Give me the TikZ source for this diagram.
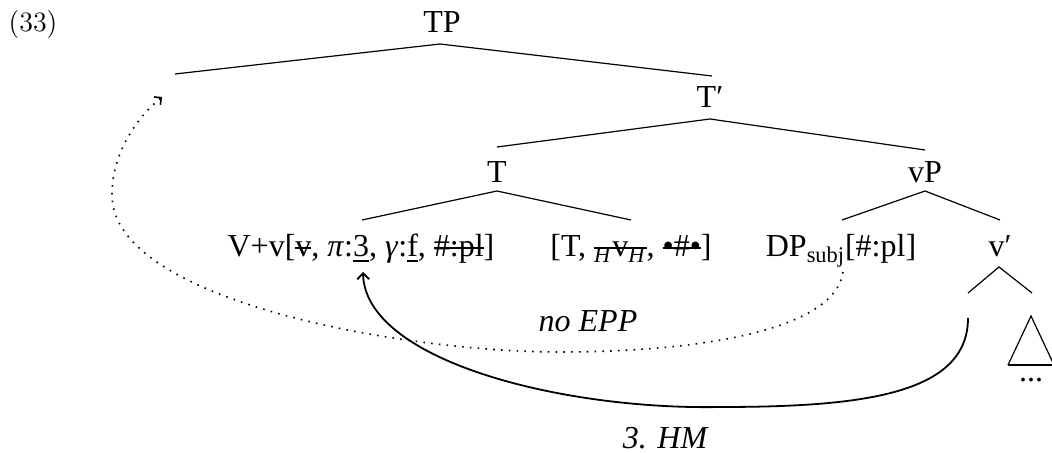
\documentclass[tikz,border=0pt]{standalone}
\usepackage{fontspec}
\setmainfont{Liberation Serif}
\newfontfamily\lmr{Latin Modern Roman}
\usetikzlibrary{arrows.meta}
\newcommand\strk[1]{\setbox0=\hbox{#1}\rlap{\rule[0.25em]{\wd0}{0.055em}}\box0}
\newcommand\undl[1]{\setbox0=\hbox{#1}\rlap{\rule[-0.15em]{\wd0}{0.05em}}\box0}
\begin{document}
\begin{tikzpicture}[x=0.5pt,y=-0.5pt,
  lbl/.style={anchor=base,inner sep=0pt,font=\fontsize{16}{19}\selectfont},
  branch/.style={line width=0.6pt},
  movearrow/.style={line width=0.9pt,-{Straight Barb[length=3pt,width=6pt]}},
  dotarrow/.style={line width=0.8pt,dash pattern=on 0.8pt off 3.1pt,-{Straight Barb[length=2.5pt,width=5pt]}}]
\useasboundingbox (0,0) rectangle (1052,453);

\node[anchor=center,inner sep=0pt,font=\lmr\fontsize{14}{17}\selectfont] (ex) at (33,25) {(33)};

\node[lbl] (tp) at (442,33) {TP};
\node[lbl] (tbar) at (710,108) {T′};
\node[lbl] (t) at (497,183) {T};
\node[lbl] (vp) at (925,183) {vP};
\node[lbl] (vv) at (361,257) {V+v[\strk{v}, \textit{π}:\undl{3}, \textit{γ}:\undl{f}, \strk{\#:pl}]};
\node[lbl] (tf) at (631,257) {[T, \strk{\textsubscript{\textit{H}}v\textsubscript{\textit{H}}}, \strk{\textbullet\#\textbullet}]};
\node[lbl] (dp) at (841,257) {DP\textsubscript{subj}[\#:pl]};
\node[lbl] (vbar) at (1000,257) {v′};
\node[lbl] (dots) at (1031,381) {...};

\node[lbl,font=\fontsize{16}{19}\selectfont\itshape] (noepp) at (588,332) {no EPP};
\node[lbl,font=\fontsize{16}{19}\selectfont\itshape] (hm) at (665,448) {3. HM};

% branch points
\coordinate (tp-a) at (440,44);
\coordinate (spec) at (175,74);
\coordinate (tbar-t) at (712,76);
\coordinate (tbar-a) at (710,119);
\coordinate (t-t) at (497,147);
\coordinate (vp-t) at (925,150);
\coordinate (t-a) at (497,191);
\coordinate (vv-t) at (362,220);
\coordinate (tf-t) at (631,220);
\coordinate (vp-a) at (925,191);
\coordinate (dp-t) at (842,220);
\coordinate (vbar-t) at (1000,220);
\coordinate (vbar-a) at (999,267);
\coordinate (vl-t) at (968,293);
\coordinate (vr-t) at (1032,293);
\coordinate (tri-a) at (1031,316);
\coordinate (tri-l) at (1008,365);
\coordinate (tri-r) at (1054,365);

\draw[branch] (spec) -- (tp-a) -- (tbar-t);
\draw[branch] (t-t) -- (tbar-a) -- (vp-t);
\draw[branch] (vv-t) -- (t-a) -- (tf-t);
\draw[branch] (dp-t) -- (vp-a) -- (vbar-t);
\draw[branch] (vl-t) -- (vbar-a) -- (vr-t);
\draw[branch] (tri-l) -- (tri-a) -- (tri-r);
\draw[branch] (tri-l) -- (tri-r);

% movement arrows
\coordinate (hm-start) at (968,318);
\coordinate (hm-bot) at (720,407);
\coordinate (hm-end) at (363,272);
\draw[movearrow] (hm-start) .. controls (968,395) and (860,407) .. (hm-bot)
  .. controls (560,410) and (365,360) .. (hm-end);

\coordinate (ep-start) at (843,272);
\coordinate (ep-bot) at (560,352);
\coordinate (ep-left) at (112,195);
\coordinate (ep-end) at (162,97);
\draw[dotarrow] (ep-start) .. controls (835,330) and (700,352) .. (ep-bot)
  .. controls (400,352) and (112,300) .. (ep-left)
  .. controls (112,150) and (140,115) .. (ep-end);
\end{tikzpicture}
\end{document}
